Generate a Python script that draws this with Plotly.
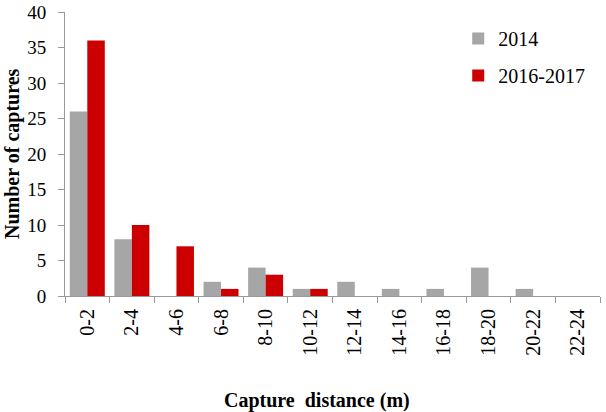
import plotly.graph_objects as go

categories = ["0-2", "2-4", "4-6", "6-8", "8-10", "10-12", "12-14", "14-16", "16-18", "18-20", "20-22", "22-24"]
captures_2014 = [26, 8, 0, 2, 4, 1, 2, 1, 1, 4, 1, 0]
captures_2016_2017 = [36, 10, 7, 1, 3, 1, 0, 0, 0, 0, 0, 0]
y_ticks = [0, 5, 10, 15, 20, 25, 30, 35, 40]

FONT = "Liberation Serif"

fig = go.Figure()
fig.add_trace(go.Bar(x=categories, y=captures_2014, name="2014", legendgroup="a",
                     marker=dict(color="#A6A6A6", line=dict(width=0))))
fig.add_trace(go.Bar(x=categories, y=captures_2016_2017, name="2016-2017", legendgroup="b",
                     marker=dict(color="#CC0000", line=dict(width=0))))

fig.update_layout(
    width=606, height=412,
    margin=dict(l=65, r=6, t=12, b=116),
    paper_bgcolor="white", plot_bgcolor="white",
    barmode="group", bargap=0.215, bargroupgap=0,
    font=dict(family=FONT, size=20, color="black"),
    showlegend=True,
    legend=dict(x=0.735, y=0.975, xanchor="left", yanchor="top",
                font=dict(family=FONT, size=20, color="black"),
                itemwidth=30,
                traceorder="grouped", tracegroupgap=8, bgcolor="rgba(0,0,0,0)"),
    annotations=[
        dict(text="<b>Capture  distance (m)</b>", xref="paper", yref="paper",
             x=(317 - 65) / 535, y=-(400 - 296) / 284, xanchor="center", yanchor="middle",
             showarrow=False, font=dict(family=FONT, size=20, color="black")),
        dict(text="<b>Number of captures</b>", xref="paper", yref="paper",
             x=-(65 - 12) / 535, y=0.5, xanchor="center", yanchor="middle", textangle=-90,
             showarrow=False, font=dict(family=FONT, size=20, color="black")),
    ],
)
fig.update_xaxes(
    type="category", tickangle=-90, tickson="boundaries", automargin=False,
    ticks="outside", ticklen=6, tickcolor="#999999", ticklabelstandoff=4,
    showline=True, linecolor="#999999", linewidth=1,
    showgrid=False,
    tickfont=dict(family=FONT, size=20, color="black"),
)
fig.update_yaxes(
    range=[0, 40], tickmode="array", tickvals=y_ticks, automargin=False,
    ticks="outside", ticklen=6, tickcolor="#999999", ticklabelstandoff=8,
    ticklabeloverflow="allow",
    showline=True, linecolor="#999999", linewidth=1,
    showgrid=False, zeroline=False,
    tickfont=dict(family=FONT, size=19, color="black"),
)

fig.write_html("out.html", config={"displayModeBar": False},
               post_script="document.body.style.margin='0';")
